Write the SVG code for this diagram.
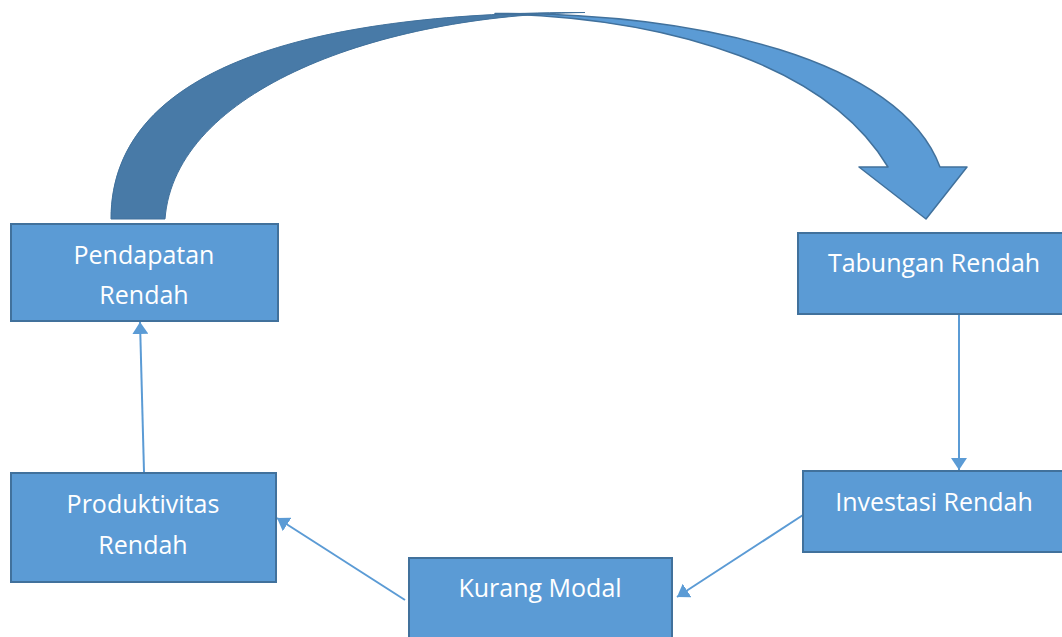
<svg xmlns="http://www.w3.org/2000/svg" width="1062" height="637" viewBox="0 0 1062 637">
<style>
.box{fill:#5b9bd5;stroke:#41719c;stroke-width:2}
.lbl{font-family:"Open Sans","Noto Sans",sans-serif;font-size:25px;fill:#ffffff;text-anchor:middle}
.conn{stroke:#5b9bd5;stroke-width:2;fill:none;marker-end:url(#ah)}
</style>
<defs>
<marker id="ah" markerUnits="userSpaceOnUse" markerWidth="12" markerHeight="16" refX="12" refY="8" orient="auto">
<path d="M0,0 L12,8 L0,16 z" fill="#5b9bd5"/>
</marker>
</defs>
<rect width="1062" height="637" fill="#ffffff"/>
<g id="curved-arrow">
<path d="M111,219 C111,60 330,12 585,12.5 C380,15 175,90 165,219 Z" fill="#487aa7" stroke="#41719c" stroke-width="1" stroke-linejoin="round"/>
<path d="M495,13.5 C700,12 900,60 940,167 L967,167 L926,219 L859,167 L888,167 C830,70 680,18 495,13.5 Z" fill="#5b9bd5" stroke="#41719c" stroke-width="1.5" stroke-linejoin="round"/>
</g>
<g id="connectors">
<line class="conn" x1="959" y1="314" x2="959" y2="470"/>
<line class="conn" x1="803" y1="515" x2="677" y2="597"/>
<line class="conn" x1="405" y1="600" x2="277" y2="518"/>
<line class="conn" x1="144" y1="472" x2="140" y2="322"/>
</g>
<g id="pendapatan">
<rect class="box" x="11" y="224" width="267" height="97"/>
<text class="lbl" x="144" y="264">Pendapatan</text>
<text class="lbl" x="144" y="304">Rendah</text>
</g>
<g id="tabungan">
<rect class="box" x="798" y="233" width="272" height="81"/>
<text class="lbl" x="934" y="272">Tabungan Rendah</text>
</g>
<g id="investasi">
<rect class="box" x="803" y="471" width="264" height="81"/>
<text class="lbl" x="934" y="511">Investasi Rendah</text>
</g>
<g id="kurang-modal">
<rect class="box" x="409" y="558" width="263" height="90"/>
<text class="lbl" x="540" y="597">Kurang Modal</text>
</g>
<g id="produktivitas">
<rect class="box" x="11" y="473" width="265" height="109"/>
<text class="lbl" x="143" y="513">Produktivitas</text>
<text class="lbl" x="143" y="554">Rendah</text>
</g>
</svg>
